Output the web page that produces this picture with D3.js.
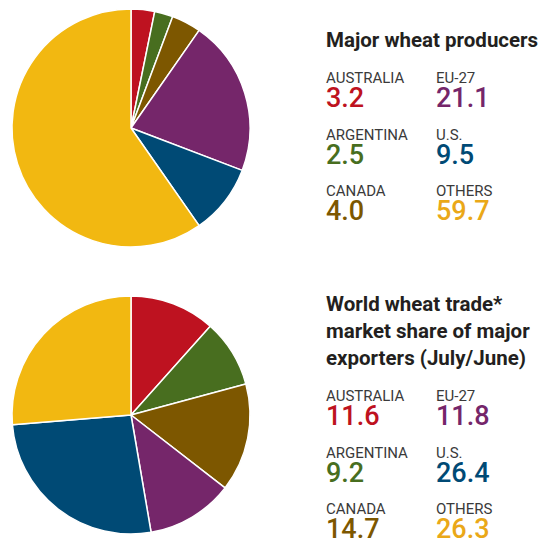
<!DOCTYPE html>
<html>
<head>
<meta charset="utf-8">
<script src="https://cdn.jsdelivr.net/npm/d3@7"></script>
<style>
  body { margin: 0; background: #fff; }
  svg { display: block; }
  .title { font-family: Roboto, "Liberation Sans", sans-serif; font-weight: 700; font-size: 20.5px; fill: #231f20; }
  .lbl { font-family: Roboto, "Liberation Sans", sans-serif; font-size: 15px; fill: #3a3a3a; }
  .val { font-family: Roboto, "Liberation Sans", sans-serif; font-weight: 500; font-size: 27px; }
</style>
</head>
<body>
<svg id="chart" width="545" height="539"></svg>
<script>
// Données
const countries = ["AUSTRALIA", "ARGENTINA", "CANADA", "EU-27", "U.S.", "OTHERS"];
const production = [3.2, 2.5, 4.0, 21.1, 9.5, 59.7];
const tradeShare = [11.6, 9.2, 14.7, 11.8, 26.4, 26.3];
const sliceColors = ["#be1220", "#486e1f", "#7d5700", "#75266a", "#004a75", "#f2b811"];
const valueColors = ["#be1220", "#486e1f", "#7d5700", "#75266a", "#004a75", "#eaa818"];

const svg = d3.select("#chart");

const pie = d3.pie().sort(null).value(d => d);
const arc = d3.arc().innerRadius(0).outerRadius(119);

function drawPie(values, cx, cy) {
  const g = svg.append("g").attr("transform", "translate(" + cx + "," + cy + ")");
  g.selectAll("path")
    .data(pie(values))
    .enter()
    .append("path")
    .attr("d", arc)
    .attr("fill", (d, i) => sliceColors[i])
    .attr("stroke", "#fff")
    .attr("stroke-width", 1.5)
    .attr("stroke-linejoin", "round");
}

function drawLegend(titleLines, values, x, titleY, firstRowY) {
  const g = svg.append("g");
  titleLines.forEach((t, i) => {
    g.append("text").attr("class", "title")
      .attr("x", x).attr("y", titleY + i * 27).text(t);
  });
  values.forEach((v, i) => {
    const col = Math.floor(i / 3);
    const row = i % 3;
    const tx = x + col * 110;
    const ty = firstRowY + row * 56.5;
    g.append("text").attr("class", "lbl").attr("x", tx).attr("y", ty).text(countries[i]);
    g.append("text").attr("class", "val").attr("x", tx).attr("y", ty + 24)
      .attr("fill", valueColors[i]).text(d3.format(".1f")(v));
  });
}

drawPie(production, 131, 128);
drawPie(tradeShare, 131, 415);

drawLegend(["Major wheat producers"], production, 326, 47, 83);
drawLegend(["World wheat trade*", "market share of major", "exporters (July/June)"], tradeShare, 326, 311, 401);
</script>
</body>
</html>
